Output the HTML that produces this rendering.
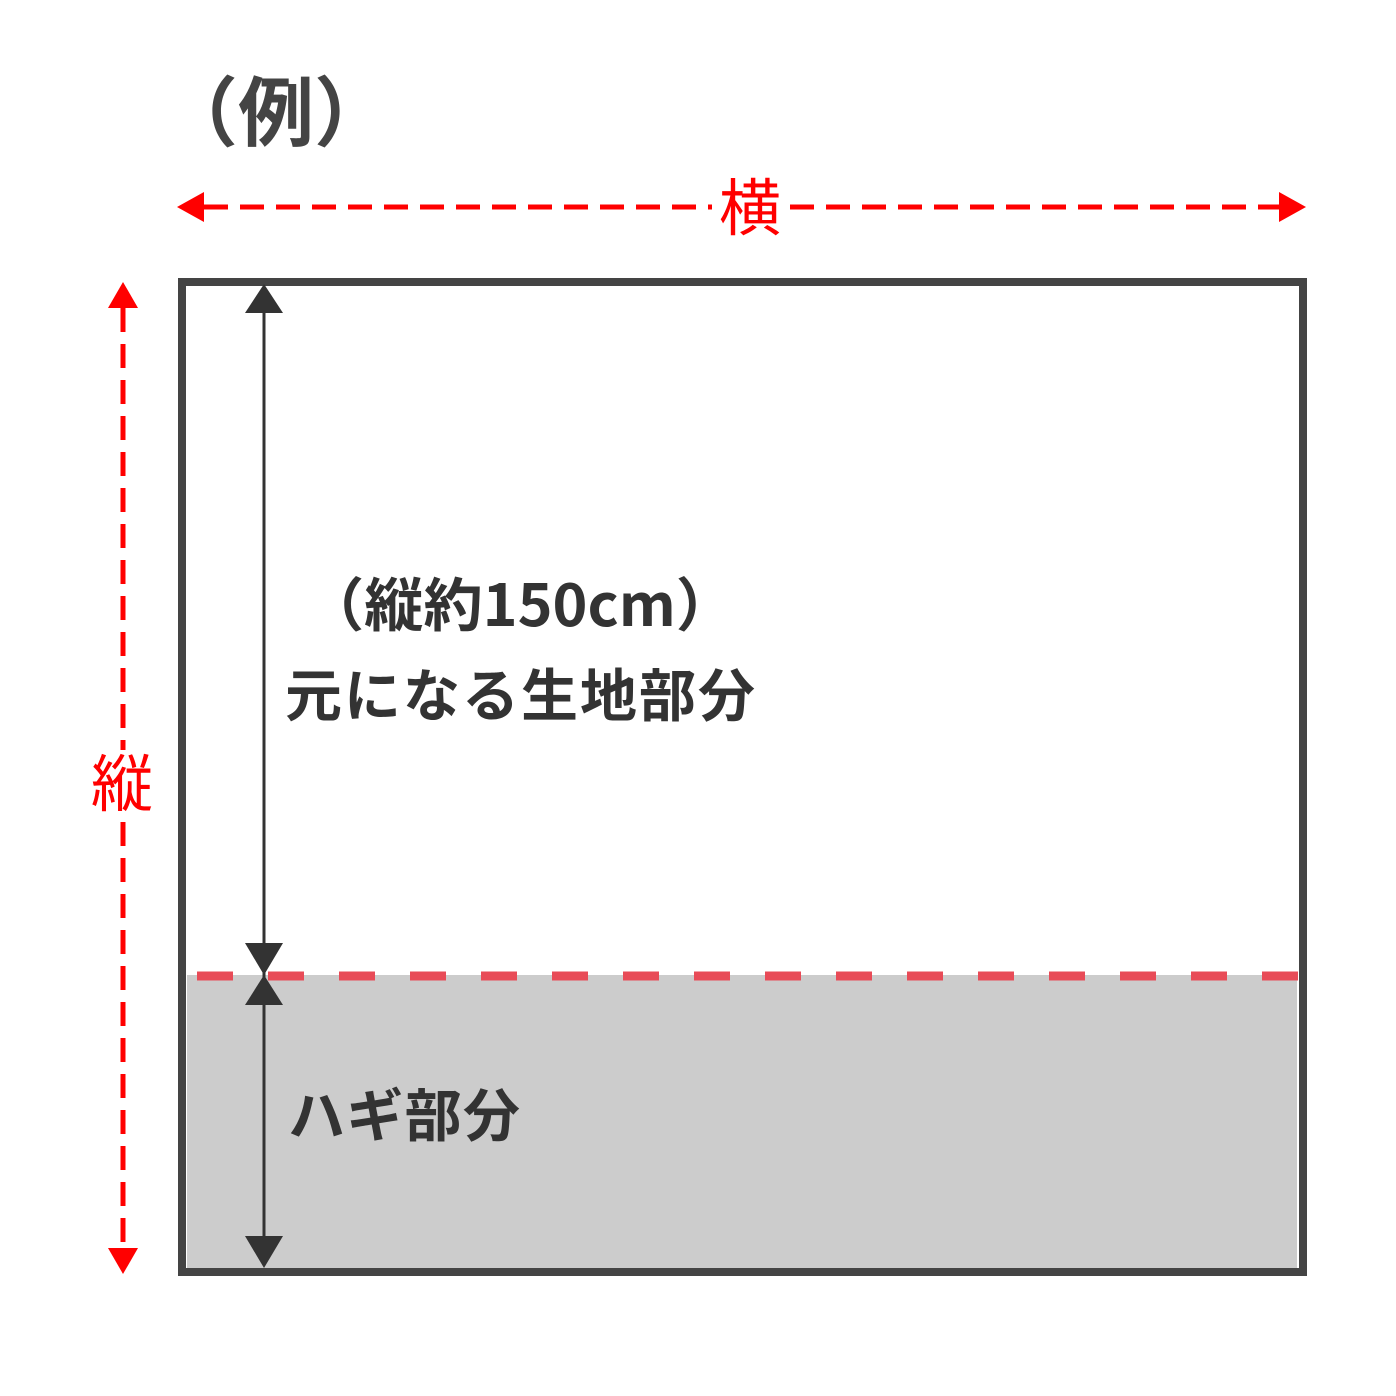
<!DOCTYPE html>
<html><head><meta charset="utf-8"><style>
html,body{margin:0;padding:0;background:#fff;}
svg{display:block;}
text{font-family:"Noto Sans CJK JP","Liberation Sans",sans-serif;}
</style></head><body>
<svg width="1396" height="1396" viewBox="0 0 1396 1396" xmlns="http://www.w3.org/2000/svg">
<rect x="0" y="0" width="1396" height="1396" fill="#fff"/>
<rect x="187" y="975" width="1110" height="294" fill="#cccccc"/>
<rect x="182" y="282" width="1121" height="990" fill="none" stroke="#444" stroke-width="8"/>
<line x1="197" y1="976" x2="1303" y2="976" stroke="#e84b57" stroke-width="9" stroke-dasharray="36 35"/>
<line x1="264" y1="300" x2="264" y2="1260" stroke="#333" stroke-width="3"/>
<polygon points="264,284 245,313 283,313" fill="#333"/>
<polygon points="245,943 283,943 264,975" fill="#333"/>
<polygon points="264,975 245,1005 283,1005" fill="#333"/>
<polygon points="245,1236 283,1236 264,1268" fill="#333"/>
<line x1="204" y1="207" x2="712" y2="207" stroke="#f00" stroke-width="5" stroke-dasharray="24 12"/>
<line x1="790" y1="207" x2="1280" y2="207" stroke="#f00" stroke-width="5" stroke-dasharray="24 12"/>
<polygon points="177,207 204,192 204,222" fill="#f00"/>
<polygon points="1306,207 1279,192 1279,222" fill="#f00"/>
<line x1="123" y1="308" x2="123" y2="750" stroke="#f00" stroke-width="5" stroke-dasharray="24 12"/>
<line x1="123" y1="822" x2="123" y2="1248" stroke="#f00" stroke-width="5" stroke-dasharray="24 12"/>
<polygon points="123,282 108,308 138,308" fill="#f00"/>
<polygon points="123,1274 108,1248 138,1248" fill="#f00"/>
<text x="162" y="140" font-size="76" font-weight="bold" fill="#444">（例）</text>
<text x="750" y="230" font-size="62" fill="#f00" text-anchor="middle">横</text>
<text x="122" y="806" font-size="62" fill="#f00" text-anchor="middle">縦</text>
<text x="305" y="626" font-size="58" font-weight="bold" fill="#333" textLength="430" lengthAdjust="spacingAndGlyphs">（縦約150cm）</text>
<text x="285" y="716" font-size="57" font-weight="bold" fill="#333" textLength="470" lengthAdjust="spacing">元になる生地部分</text>
<text x="288" y="1136" font-size="57" font-weight="bold" fill="#333" textLength="232" lengthAdjust="spacing">ハギ部分</text>
</svg>
</body></html>
